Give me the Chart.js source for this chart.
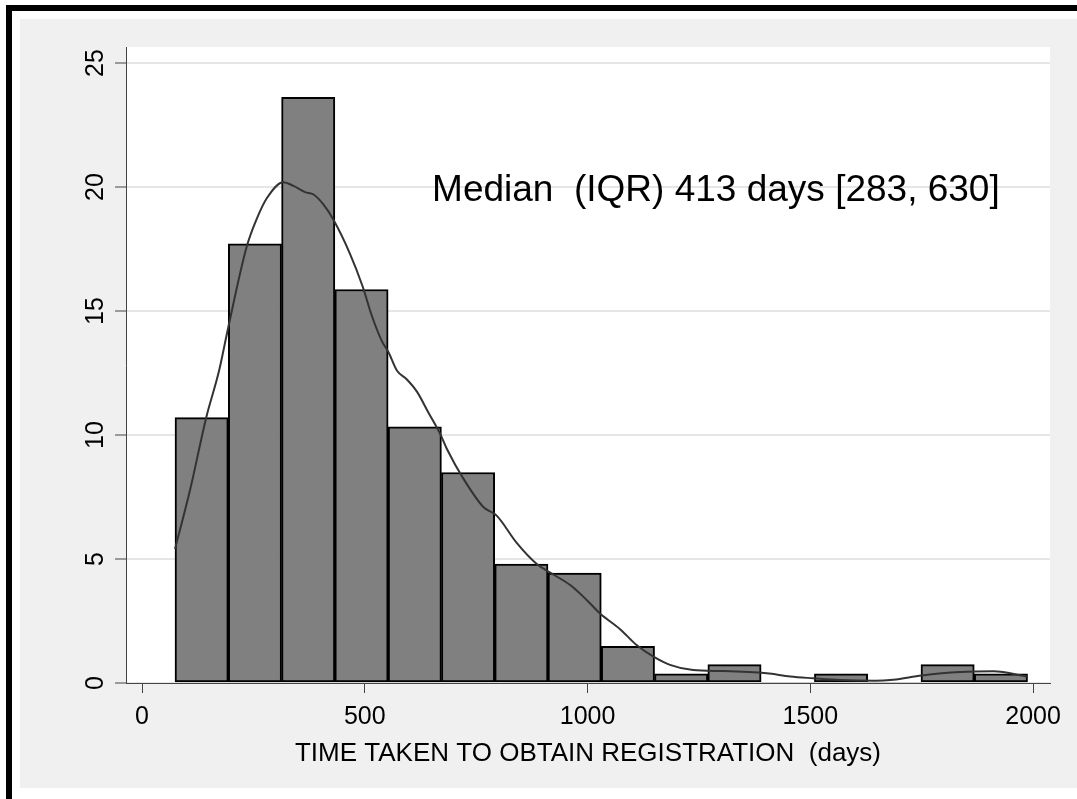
<!DOCTYPE html>
<html>
<head>
<meta charset="utf-8">
<script src="https://cdn.jsdelivr.net/npm/chart.js@4"></script>
<style>
  html, body { margin: 0; padding: 0; background: #fff; }
  body { width: 1077px; height: 799px; position: relative; overflow: hidden; }
  .frame { position: absolute; left: 6px; top: 5px; width: 1200px; height: 900px;
           border-left: 6px solid #000; border-top: 6px solid #000; }
  .panel { position: absolute; left: 20px; top: 19px; width: 1057px; height: 769px; background: #f0f0f0; }
  canvas { display: block; }
</style>
</head>
<body>
<div class="frame"></div>
<div class="panel"><canvas id="hist" width="1057" height="769"></canvas></div>
<script>
// histogram bins (days) and percent of registrations
const binStart = 74;
const binWidth = 119.6;
const binPercent = [10.70, 17.71, 23.62, 15.87, 10.33, 8.49, 4.80, 4.43, 1.48, 0.37, 0.74, 0, 0.37, 0, 0.74, 0.37];

// kernel density overlay
const kdeDays = [74, 108, 144, 173, 193, 235, 257, 280, 317, 340, 366, 385, 407, 429, 467, 495, 516, 538, 553, 572,
  594, 617, 643, 669, 684, 721, 766, 796, 841, 886, 916, 961, 998, 1028, 1073, 1110, 1148, 1185, 1237, 1305,
  1402, 1455, 1507, 1567, 1645, 1686, 1750, 1836, 1911, 1988];
const kdePercent = [5.4, 7.8, 10.7, 12.6, 14.3, 17.6, 18.7, 19.55, 20.2, 20.05, 19.8, 19.7, 19.3, 18.7, 17.3, 16.0, 14.8, 13.8, 13.35, 12.6,
  12.25, 11.75, 10.9, 10.05, 9.45, 8.25, 7.1, 6.75, 5.65, 4.8, 4.45, 3.95, 3.35, 2.8, 2.17, 1.53, 1.06, 0.73, 0.52, 0.48,
  0.39, 0.26, 0.19, 0.12, 0.09, 0.13, 0.3, 0.44, 0.47, 0.25];

const xTickValues = [0, 500, 1000, 1500, 2000];
const yTickValues = [0, 5, 10, 15, 20, 25];

const xTitle = 'TIME TAKEN TO OBTAIN REGISTRATION  (days)';
const note = 'Median  (IQR) 413 days [283, 630]';

const FONT = '"Liberation Sans", Arial, sans-serif';

const barData = binPercent.map((v, i) => ({ x: binStart + binWidth * (i + 0.5), y: v }));
const kdeData = kdeDays.map((d, i) => ({ x: d, y: kdePercent[i] }));

const plotBg = {
  id: 'plotBg',
  beforeDraw(chart) {
    const { ctx, chartArea: a } = chart;
    ctx.save();
    ctx.fillStyle = '#fff';
    ctx.fillRect(a.left, a.top, a.right - a.left, a.bottom - a.top);
    ctx.restore();
  },
  afterDraw(chart) {
    const { ctx } = chart;
    const ys = chart.scales.y, xs = chart.scales.x;
    ctx.save();
    ctx.fillStyle = '#000';
    // rotated y tick labels
    ctx.font = '25px ' + FONT;
    ctx.textAlign = 'center';
    ctx.textBaseline = 'middle';
    ys.ticks.forEach(t => {
      const y = ys.getPixelForValue(t.value);
      ctx.save();
      ctx.translate(ys.right - 30, y);
      ctx.rotate(-Math.PI / 2);
      ctx.fillText(String(t.value), 0, 0);
      ctx.restore();
    });
    // annotation
    ctx.font = '37px ' + FONT;
    ctx.textAlign = 'left';
    ctx.fillText(note, xs.getPixelForValue(651), ys.getPixelForValue(19.85));
    ctx.restore();
  }
};

new Chart(document.getElementById('hist'), {
  type: 'bar',
  data: {
    datasets: [
      {
        type: 'line',
        data: kdeData,
        borderColor: '#333',
        borderWidth: 2,
        pointRadius: 0,
        cubicInterpolationMode: 'monotone',
        order: 0
      },
      {
        type: 'bar',
        data: barData,
        backgroundColor: '#808080',
        borderColor: '#000',
        borderWidth: binPercent.map(v => v > 0 ? 2 : 0),
        borderSkipped: false,
        barPercentage: 1,
        categoryPercentage: 1,
        grouped: false,
        order: 1
      }
    ]
  },
  options: {
    responsive: false,
    animation: false,
    events: [],
    layout: { padding: { top: 28, right: 27, left: 0, bottom: 0 } },
    plugins: { legend: { display: false }, tooltip: { enabled: false } },
    scales: {
      x: {
        type: 'linear',
        min: -36,
        max: 2038,
        offset: false,
        grid: { offset: false, drawOnChartArea: false, drawTicks: true, tickLength: 10, tickColor: '#444', tickWidth: 1 },
        border: { color: '#444', width: 1 },
        afterBuildTicks(s) { s.ticks = xTickValues.map(v => ({ value: v })); },
        ticks: { color: '#000', font: { family: FONT, size: 25 }, padding: 9, maxRotation: 0, autoSkip: false,
                 callback: v => String(v) },
        title: { display: true, text: xTitle, color: '#000', font: { family: FONT, size: 26 }, padding: { top: 4, bottom: 19 } },
        afterFit(s) { s.height = 105; }
      },
      y: {
        min: 0,
        max: 25.65,
        grid: { color: '#e6e6e6', lineWidth: 2, drawTicks: true, tickLength: 11, tickColor: '#444', tickWidth: 1 },
        border: { color: '#444', width: 1 },
        afterBuildTicks(s) { s.ticks = yTickValues.map(v => ({ value: v })); },
        ticks: { display: false },
        afterFit(s) { s.width = 106; }
      }
    }
  },
  plugins: [plotBg]
});
</script>
</body>
</html>
